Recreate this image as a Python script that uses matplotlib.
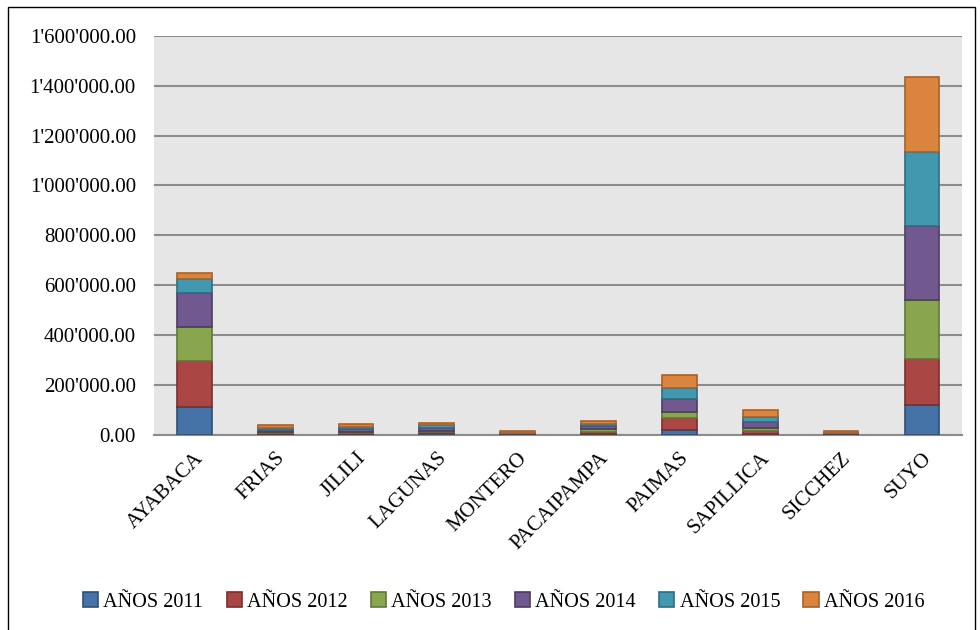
import numpy as np
import matplotlib.pyplot as plt
from matplotlib.patches import Rectangle
from matplotlib.ticker import FuncFormatter

plt.rcParams['font.family'] = ['Liberation Serif', 'DejaVu Serif']

# --- DATA ---
districts = ['AYABACA', 'FRIAS', 'JILILI', 'LAGUNAS', 'MONTERO',
             'PACAIPAMPA', 'PAIMAS', 'SAPILLICA', 'SICCHEZ', 'SUYO']
years = ['AÑOS 2011', 'AÑOS 2012', 'AÑOS 2013', 'AÑOS 2014', 'AÑOS 2015', 'AÑOS 2016']
v2011 = [113000, 3000, 3000, 6000, 1000, 3000, 19000, 3000, 1000, 120000]
v2012 = [184000, 4000, 4000, 5000, 1000, 8000, 48000, 10000, 1000, 184000]
v2013 = [134000, 3000, 4000, 5000, 1000, 10000, 26000, 13000, 1000, 236000]
v2014 = [138000, 10000, 10000, 12000, 2000, 12000, 50000, 24000, 2000, 297000]
v2015 = [55000, 5000, 9000, 9000, 2000, 10000, 44000, 23000, 2000, 296000]
v2016 = [23000, 13000, 13000, 11000, 8000, 13000, 53000, 27000, 7000, 303000]
series = [v2011, v2012, v2013, v2014, v2015, v2016]

colors = ['#4572A7', '#AA4643', '#89A54E', '#71588F', '#4198AF', '#DB843D']
edges = ['#2F4F78', '#7A2E2C', '#607838', '#4E3C66', '#2B6E80', '#A8612A']

fig = plt.figure(figsize=(9.8, 6.3), dpi=100)
ax = fig.add_axes([0.157, 0.310, 0.825, 0.633])
ax.set_facecolor('#E6E6E6')

x = np.arange(len(districts))
bottom = np.zeros(len(districts))
for vals, lab, c, ec in zip(series, years, colors, edges):
    ax.bar(x, vals, 0.43, bottom=bottom, color=c, edgecolor=ec, linewidth=1.2,
           label=lab, zorder=3)
    bottom += np.array(vals)

ax.set_xlim(-0.5, len(districts) - 0.5)
ax.set_ylim(0, 1600000)
ax.set_yticks(np.arange(0, 1600001, 200000))
ax.yaxis.set_major_formatter(FuncFormatter(lambda v, p: f"{v:,.2f}".replace(',', "'")))
ax.grid(axis='y', color='#8C8C8C', linewidth=1.5, zorder=1)
for s in ['left', 'right', 'top']:
    ax.spines[s].set_visible(False)
ax.spines['bottom'].set_color('#8C8C8C')
ax.spines['bottom'].set_linewidth(1.5)
ax.tick_params(axis='y', length=0, labelsize=15, pad=13)
ax.tick_params(axis='x', length=0, labelsize=15, pad=10)
ax.set_xticks(x)
ax.set_xticklabels(districts, rotation=45, ha='right', rotation_mode='anchor')

leg = fig.legend(loc='lower center', bbox_to_anchor=(0.514, 0.0), ncol=6, frameon=False,
                 fontsize=14.6, handlelength=0.75, handleheight=0.75, columnspacing=1.15,
                 handletextpad=0.25)

fig.patches.append(Rectangle((0.008, -0.01), 0.987, 0.999, transform=fig.transFigure,
                             fill=False, edgecolor='black', linewidth=1))

fig.savefig('out.png', dpi=100)
